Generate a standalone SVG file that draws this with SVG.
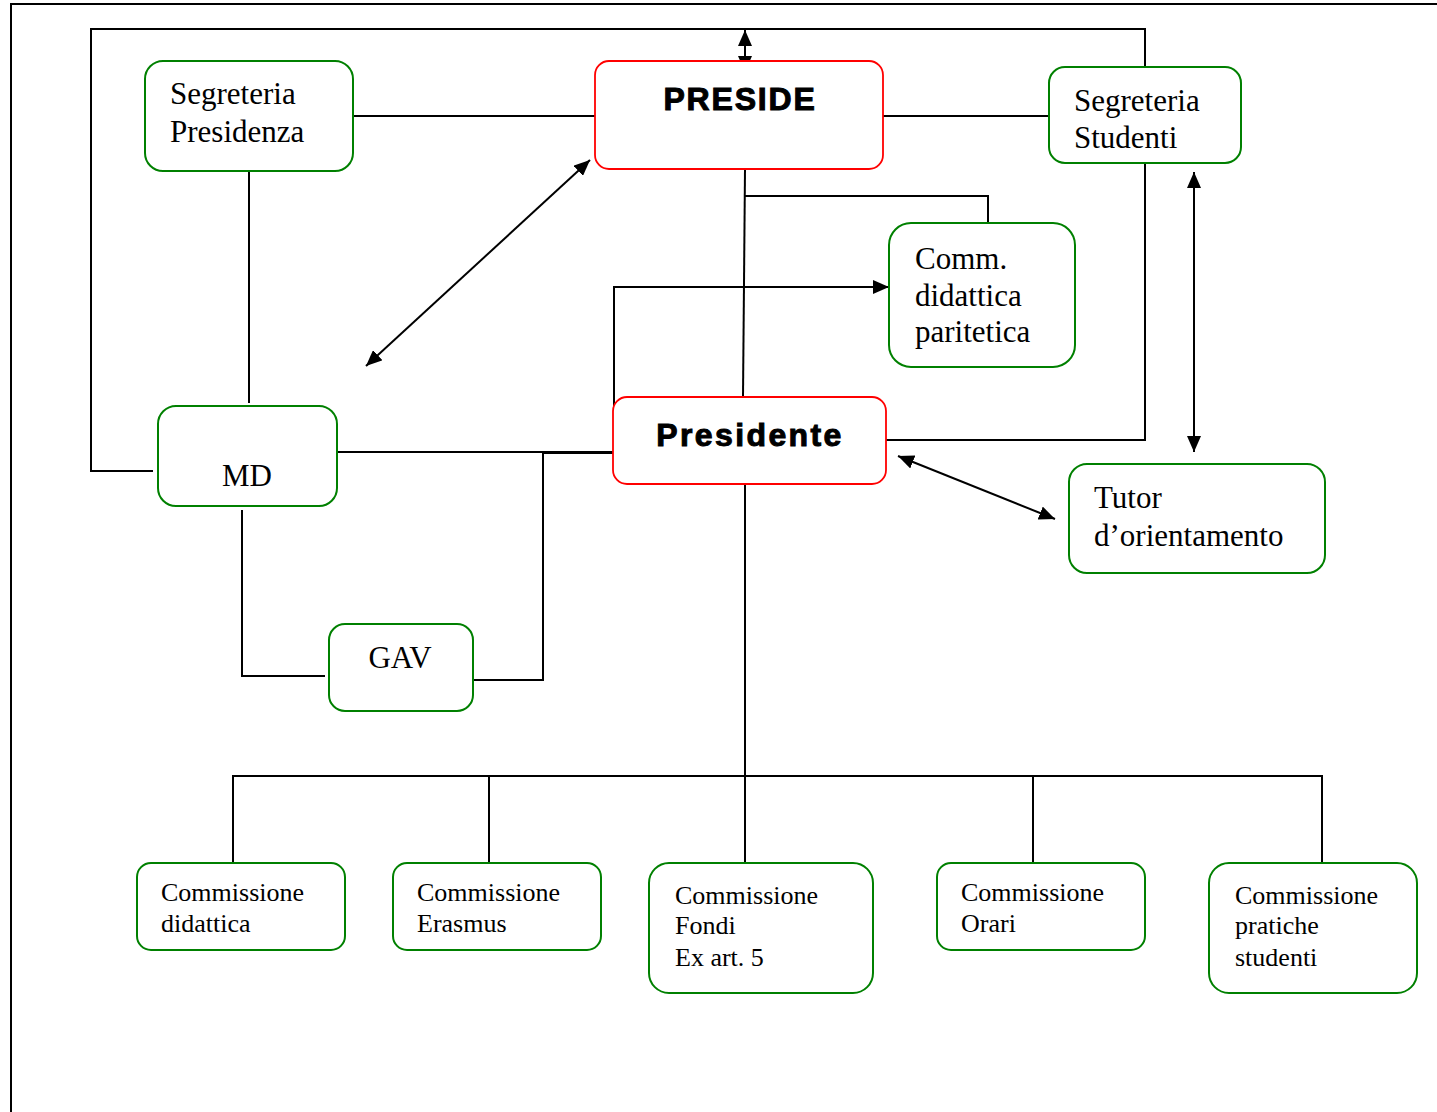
<svg xmlns="http://www.w3.org/2000/svg" width="1437" height="1112" viewBox="0 0 1437 1112">
<style>
.g{fill:#fff;stroke:#008000;stroke-width:2}
.r{fill:#fff;stroke:#ff0000;stroke-width:1.8}
.t{font-family:"Liberation Serif","Times New Roman",serif;font-size:31px;fill:#000}
.s{font-family:"Liberation Serif","Times New Roman",serif;font-size:26px;fill:#000}
.b{font-family:"Liberation Sans",Arial,sans-serif;font-weight:bold;font-size:32px;fill:#000;stroke:#000;stroke-width:1;text-anchor:middle;letter-spacing:1.8px}
.c{fill:none;stroke:#000;stroke-width:2}
</style>
<defs>
<marker id="ae" viewBox="0 0 16 14" refX="16" refY="7" markerWidth="16" markerHeight="14" markerUnits="userSpaceOnUse" orient="auto-start-reverse"><path d="M0,0 L16,7 L0,14 Z" fill="#000"/></marker>
</defs>
<rect width="1437" height="1112" fill="#fff"/>
<path class="c" d="M10,4 H1437 M11,4 V1112" stroke-width="2.5"/>
<g id="connectors">
<path class="c" d="M153,471 H91 V29 H1145 V67"/>
<path class="c" d="M1145,163 V440 H886"/>
<path class="c" d="M745,30 V72" marker-start="url(#ae)" marker-end="url(#ae)"/>
<path class="c" d="M353,116 H595"/>
<path class="c" d="M883,116 H1049"/>
<path class="c" d="M745,169 L743,397"/>
<path class="c" d="M745,196 H988 V223"/>
<path class="c" d="M337,452 H614 V287 H889" marker-end="url(#ae)"/>
<path class="c" d="M590,160 L366,366" marker-start="url(#ae)" marker-end="url(#ae)"/>
<path class="c" d="M898,456 L1055,519" marker-start="url(#ae)" marker-end="url(#ae)"/>
<path class="c" d="M1194,172 V452" marker-start="url(#ae)" marker-end="url(#ae)"/>
<path class="c" d="M249,171 V403"/>
<path class="c" d="M242,510 V676 H325"/>
<path class="c" d="M471,680 H543 V453 H614"/>
<path class="c" d="M745,484 V776"/>
<path class="c" d="M233,863 V776 H1322 V863"/>
<path class="c" d="M489,776 V863 M745,776 V863 M1033,776 V863"/>
</g>
<g id="segreteria-presidenza">
<rect class="g" x="145" y="61" width="208" height="110" rx="18"/>
<text class="t" x="170" y="104">Segreteria</text>
<text class="t" x="170" y="142">Presidenza</text>
</g>
<g id="preside">
<rect class="r" x="595" y="61" width="288" height="108" rx="14"/>
<text class="b" x="740" y="110">PRESIDE</text>
</g>
<g id="segreteria-studenti">
<rect class="g" x="1049" y="67" width="192" height="96" rx="16"/>
<text class="t" x="1074" y="111">Segreteria</text>
<text class="t" x="1074" y="148">Studenti</text>
</g>
<g id="comm-paritetica">
<rect class="g" x="889" y="223" width="186" height="144" rx="22"/>
<text class="t" x="915" y="269">Comm.</text>
<text class="t" x="915" y="306">didattica</text>
<text class="t" x="915" y="342">paritetica</text>
</g>
<g id="presidente">
<rect class="r" x="613" y="397" width="273" height="87" rx="14"/>
<text class="b" x="750" y="446" style="letter-spacing:2.4px">Presidente</text>
</g>
<g id="tutor">
<rect class="g" x="1069" y="464" width="256" height="109" rx="18"/>
<text class="t" x="1094" y="508">Tutor</text>
<text class="t" x="1094" y="546">d’orientamento</text>
</g>
<g id="md">
<rect class="g" x="158" y="406" width="179" height="100" rx="18"/>
<text class="t" x="247" y="486" text-anchor="middle">MD</text>
</g>
<g id="gav">
<rect class="g" x="329" y="624" width="144" height="87" rx="16"/>
<text class="t" x="400" y="668" text-anchor="middle">GAV</text>
</g>
<g id="comm-didattica">
<rect class="g" x="137" y="863" width="208" height="87" rx="14"/>
<text class="s" x="161" y="901">Commissione</text>
<text class="s" x="161" y="932">didattica</text>
</g>
<g id="comm-erasmus">
<rect class="g" x="393" y="863" width="208" height="87" rx="14"/>
<text class="s" x="417" y="901">Commissione</text>
<text class="s" x="417" y="932">Erasmus</text>
</g>
<g id="comm-fondi">
<rect class="g" x="649" y="863" width="224" height="130" rx="20"/>
<text class="s" x="675" y="904">Commissione</text>
<text class="s" x="675" y="934">Fondi</text>
<text class="s" x="675" y="966">Ex art. 5</text>
</g>
<g id="comm-orari">
<rect class="g" x="937" y="863" width="208" height="87" rx="14"/>
<text class="s" x="961" y="901">Commissione</text>
<text class="s" x="961" y="932">Orari</text>
</g>
<g id="comm-pratiche">
<rect class="g" x="1209" y="863" width="208" height="130" rx="20"/>
<text class="s" x="1235" y="904">Commissione</text>
<text class="s" x="1235" y="934">pratiche</text>
<text class="s" x="1235" y="966">studenti</text>
</g>
</svg>
